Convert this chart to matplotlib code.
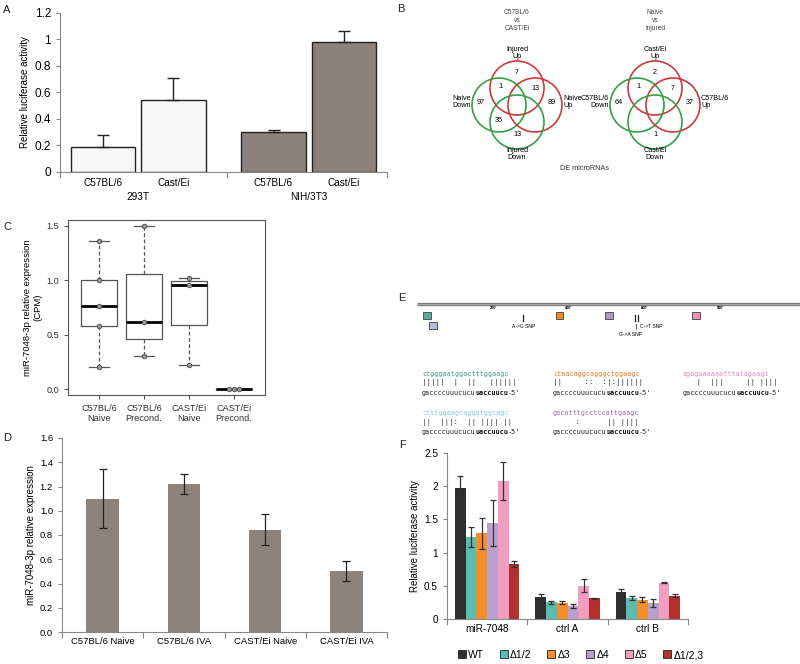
import matplotlib.pyplot as plt
from matplotlib.patches import Circle, Rectangle
from matplotlib.lines import Line2D

plt.rcParams['font.family'] = ['Liberation Sans', 'DejaVu Sans']

# ---- panel A: luciferase activity per strain and cell line
a_strains = ["C57BL/6", "Cast/Ei", "C57BL/6", "Cast/Ei"]
a_cells = ["293T", "NIH/3T3"]
a_values = [0.19, 0.545, 0.305, 0.98]
a_errors = [0.09, 0.165, 0.008, 0.08]

# ---- panel B: DE microRNA venn counts
venn_titles = ["C57BL/6\nvs\nCAST/Ei", "Naive\nvs\ninjured"]
venn1_sets = ["Injured\nUp", "Naive\nDown", "Naive\nUp", "Injured\nDown"]
venn2_sets = ["Cast/Ei\nUp", "C57BL/6\nDown", "C57BL/6\nUp", "Cast/Ei\nDown"]
# regions: top, top&left, top&right, left, right, left&bottom, bottom
venn1_counts = [7, 1, 13, 97, 89, 35, 13]
venn2_counts = [2, 1, 7, 64, 37, None, 1]

# ---- panel C: small RNA-seq CPM
c_labels = ["C57BL/6\nNaive", "C57BL/6\nPrecond.", "CAST/Ei\nNaive", "CAST/Ei\nPrecond."]
c_b6_naive = [0.20, 0.58, 0.76, 1.00, 1.36]
c_b6_precond = [0.30, 0.62, 1.50]
c_cast_naive = [0.22, 0.96, 1.02]
c_cast_precond = [0.0, 0.0, 0.0]

# ---- panel D: qPCR
d_labels = ["C57BL/6 Naive", "C57BL/6 IVA", "CAST/Ei Naive", "CAST/Ei IVA"]
d_values = [1.10, 1.22, 0.845, 0.505]
d_errors = [0.245, 0.08, 0.125, 0.083]

# ---- panel E: target sites in the 3'UTR
e_ticks = [200, 400, 600, 800]
e_sites = [26, 42, 375, 505, 735]
e_site_rows = [0, 1, 0, 0, 0]
e_site_colors = ["#55aa9c", "#aac0de", "#f08a24", "#b98fc9", "#ef8fb6"]
e_snps = [280, 574, 582]
e_snp_labels = ["A->G SNP", "G->A SNP", "C->T SNP"]
e_targets = ["ctgggaatggactttggaagc", "ctaacaggcagggctggaagc",
             "agagaaaaaatttatagaagt", "ctttggaagcaggatggcagc",
             "gacatttgcctccattgaagc"]
e_target_colors = ["#3d9a8a", "#f07a22", "#e98bbb", "#8cc6e6", "#a466b4"]
e_pairs = ["|||||  |  ||   ||||||", "||     ::  :|:||||||",
           "   |  |||     || ||||", "||  |||:  || |||| ||",
           "     :      || ||||"]
e_mirna = ["gaccccuuucucu", "uaccuucu", "-5'"]

# ---- panel F: site deletion luciferase
f_groups = ["miR-7048", "ctrl A", "ctrl B"]
f_series = ["WT", "Δ1/2", "Δ3", "Δ4", "Δ5", "Δ1/2,3"]
f_colors = ["#2e2e2e", "#5cbcb0", "#f28e2b", "#b9a0cc", "#f29ec0", "#b3302e"]
f_values = [[1.98, 0.33, 0.41], [1.24, 0.25, 0.32], [1.29, 0.245, 0.29],
            [1.45, 0.20, 0.24], [2.08, 0.50, 0.545], [0.83, 0.31, 0.35]]
f_errors = [[0.17, 0.04, 0.04], [0.15, 0.02, 0.03], [0.23, 0.02, 0.04],
            [0.345, 0.03, 0.06], [0.29, 0.10, 0.005], [0.05, 0.005, 0.02]]

W, H = 800, 664
fig = plt.figure(figsize=(8, 6.64), dpi=100)


def box(x0, y0, x1, y1):
    # pixel box (top-left origin) -> figure fraction rect
    return [x0 / W, 1 - y1 / H, (x1 - x0) / W, (y1 - y0) / H]


def excel_style(ax, fs):
    for s in ["top", "right"]:
        ax.spines[s].set_visible(False)
    for s in ["left", "bottom"]:
        ax.spines[s].set_color("#888888")
        ax.spines[s].set_linewidth(0.8)
    ax.tick_params(axis="y", labelsize=fs, length=3, color="#888888", width=0.8)
    ax.tick_params(axis="x", which="major", length=0, labelsize=fs)
    ax.tick_params(axis="x", which="minor", length=4, color="#888888", width=0.8)


# ---------------- A
axA = fig.add_axes(box(60, 12.7, 387, 172))
a_pos = [0, 1, 2.42, 3.42]
a_cols = ["#f7f7f7", "#f7f7f7", "#8c827b", "#8c827b"]
axA.bar(a_pos, a_values, width=0.91, color=a_cols, edgecolor="#222222", linewidth=1.0,
        yerr=[[0] * 4, a_errors], error_kw=dict(ecolor="#222222", elinewidth=1.0, capsize=4, capthick=1.0))
axA.set_xlim(-0.61, 4.03)
axA.set_ylim(0, 1.2)
axA.set_yticks([0, 0.2, 0.4, 0.6, 0.8, 1, 1.2], ["0", "0.2", "0.4", "0.6", "0.8", "1", "1.2"])
axA.set_xticks(a_pos, a_strains)
axA.set_xticks([-0.61, 1.76, 4.03], minor=True)
excel_style(axA, 8.5)
axA.tick_params(axis="x", labelsize=7.2, pad=4)
axA.set_ylabel("Relative luciferase activity", fontsize=7, labelpad=3)
for cx, name in zip([0.5, 2.92], a_cells):
    axA.text(cx, -0.16, name, transform=axA.get_xaxis_transform(), ha="center", va="center", fontsize=7.2)

# ---------------- C
axC = fig.add_axes(box(68, 220, 265, 395))
c_data = [c_b6_naive, c_b6_precond, c_cast_naive, c_cast_precond]
bp = axC.boxplot(c_data, positions=[1, 2, 3, 4], widths=0.8, showfliers=False, whis=(0, 100),
                 boxprops=dict(color="#555555", linewidth=0.9),
                 whiskerprops=dict(color="#555555", linewidth=0.9, linestyle=(0, (3, 2))),
                 capprops=dict(color="#555555", linewidth=0.9),
                 medianprops=dict(color="black", linewidth=2.0), capwidths=0.45)
for i, vals in enumerate(c_data):
    xs = []
    for j, v in enumerate(vals):
        same = [k for k, u in enumerate(vals) if u == v]
        if len(same) > 1:
            xs.append(i + 1 + (same.index(j) - (len(same) - 1) / 2) * 0.12)
        else:
            xs.append(i + 1)
    axC.plot(xs, vals, "o", ms=3.2, mfc="#9a9a9a", mec="#555555", mew=0.7, zorder=5)
axC.set_xlim(0.31, 4.69)
axC.set_ylim(-0.055, 1.555)
axC.set_yticks([0, 0.5, 1.0, 1.5], ["0.0", "0.5", "1.0", "1.5"])
axC.set_xticks([1, 2, 3, 4], c_labels)
for s in axC.spines.values():
    s.set_color("#555555")
    s.set_linewidth(0.8)
axC.tick_params(labelsize=6.6, length=3, color="#555555", labelcolor="#333333")
axC.set_ylabel("miR-7048-3p relative expression\n(CPM)", fontsize=6.8, labelpad=3)

# ---------------- D
axD = fig.add_axes(box(62, 438, 387, 632))
axD.bar(range(4), d_values, width=0.4, color="#8d837b",
        yerr=d_errors, error_kw=dict(ecolor="#222222", elinewidth=0.9, capsize=3, capthick=0.9))
axD.set_xlim(-0.5, 3.5)
axD.set_ylim(0, 1.6)
axD.set_yticks([0, 0.2, 0.4, 0.6, 0.8, 1.0, 1.2, 1.4, 1.6],
               ["0.0", "0.2", "0.4", "0.6", "0.8", "1.0", "1.2", "1.4", "1.6"])
axD.set_xticks(range(4), d_labels)
axD.set_xticks([-0.5, 0.5, 1.5, 2.5, 3.5], minor=True)
excel_style(axD, 6.8)
axD.set_ylabel("miR-7048-3p relative expression", fontsize=7, labelpad=3)

# ---------------- F
axF = fig.add_axes(box(447, 453, 688, 619))
bw = 0.133
for i, (name, col) in enumerate(zip(f_series, f_colors)):
    xs = [g + (i - 2.5) * bw for g in range(3)]
    axF.bar(xs, f_values[i], width=bw, color=col, label=name,
            yerr=f_errors[i], error_kw=dict(ecolor="#333333", elinewidth=0.9, capsize=2.5, capthick=0.9))
axF.set_xlim(-0.5, 2.5)
axF.set_ylim(0, 2.5)
axF.set_yticks([0, 0.5, 1, 1.5, 2, 2.5], ["0", "0.5", "1", "1.5", "2", "2.5"])
axF.set_xticks(range(3), f_groups)
axF.set_xticks([-0.5, 0.5, 1.5, 2.5], minor=True)
excel_style(axF, 7.2)
axF.set_ylabel("Relative luciferase activity", fontsize=7, labelpad=3)
handles = [Line2D([], [], marker="s", ls="none", ms=6, mfc=c, mec="#222222", mew=0.6) for c in f_colors]
fig.legend(handles, f_series, loc="center", bbox_to_anchor=(0.726, 1 - 655 / H), ncol=6,
           frameon=False, fontsize=7.5, handlelength=0.8, handletextpad=0.2, columnspacing=1.5,
           borderaxespad=0)

# ---------------- E track
axE = fig.add_axes(box(417, 300, 800, 340))
axE.set_xlim(0, 1008)
axE.set_ylim(40, 0)
axE.axis("off")
axE.plot([0, 1008], [4, 4], color="#7d7d7d", lw=2.4, solid_capstyle="butt")
axE.plot([0, 1008], [4, 4], color="#bdbdbd", lw=0.5)
for t in e_ticks:
    axE.text(t, 8, f"{t}'", fontsize=2.8, ha="center", va="center", fontweight="bold")
for pos, row, col in zip(e_sites, e_site_rows, e_site_colors):
    axE.add_patch(Rectangle((pos - 10, 15 + row * 10 - 3), 20, 6.5, facecolor=col,
                            edgecolor="#555555", lw=0.7))
for pos in e_snps:
    axE.plot([pos, pos], [15, 21], color="#222222", lw=0.9)
axE.text(e_snps[0], 27, e_snp_labels[0], fontsize=3.6, ha="center", va="center")
axE.plot([e_snps[2] - 6, e_snps[2] - 6], [24, 29], color="#222222", lw=0.5)
axE.text(e_snps[2] + 5, 27, e_snp_labels[2], fontsize=3.6, ha="left", va="center")
axE.text(e_snps[1] - 12, 34, e_snp_labels[1], fontsize=3.6, ha="center", va="center")

# ---------------- overlay (B venns, E sequences, panel letters)
ov = fig.add_axes([0, 0, 1, 1])
ov.set_xlim(0, W)
ov.set_ylim(H, 0)
ov.axis("off")
ov.patch.set_alpha(0)

for cx, title, sets, counts in [(517, venn_titles[0], venn1_sets, venn1_counts),
                                (655, venn_titles[1], venn2_sets, venn2_counts)]:
    ov.text(cx, 20, title, fontsize=4.8, ha="center", va="center", color="#444444", linespacing=1.2)
    r = 27
    d = 18
    centers = [(cx, 88), (cx - d, 105), (cx + d, 105), (cx, 122)]
    for (x, y), col in zip(centers, ["#cc3b3b", "#33a047", "#cc3b3b", "#33a047"]):
        ov.add_patch(Circle((x, y), r, fill=False, edgecolor=col, lw=1.2))
    ov.text(cx, 53, sets[0], fontsize=5.2, ha="center", va="center", linespacing=1.1)
    ov.text(cx - d - r - 1, 102, sets[1], fontsize=5.2, ha="right", va="center", linespacing=1.1)
    ov.text(cx + d + r + 1, 102, sets[2], fontsize=5.2, ha="left", va="center", linespacing=1.1)
    ov.text(cx, 154, sets[3], fontsize=5.2, ha="center", va="center", linespacing=1.1)
    spots = [(cx, 72), (cx - 17, 87), (cx + 18, 89), (cx - 36, 103), (cx + 35, 103),
             (cx - 18, 120), (cx, 135)]
    for (x, y), n in zip(spots, counts):
        if n is not None:
            ov.text(x, y, str(n), fontsize=5.2, ha="center", va="center")
ov.text(585, 168, "DE microRNAs", fontsize=5.2, ha="center", va="center", color="#333333")

# sequences
fs = 4.9
cw = 0.602 * fs * 100 / 72
mono = "DejaVu Sans Mono"
cols = [422, 553, 683]
rows = [374, 413]
slots = [(0, 0), (1, 0), (2, 0), (0, 1), (1, 1)]
for (ci, ri), seq, col, pair in zip(slots, e_targets, e_target_colors, e_pairs):
    x, y = cols[ci], rows[ri]
    ov.text(x, y, seq, fontsize=fs, family=mono, color=col, va="center", ha="left")
    ov.text(x, y + 9, pair, fontsize=fs + 0.5, family=mono, color="#333333", va="center", ha="left")
    ov.text(x, y + 19, e_mirna[0], fontsize=fs, family=mono, color="#222222", va="center", ha="left")
    ov.text(x + len(e_mirna[0]) * cw, y + 19, e_mirna[1], fontsize=fs, family=mono,
            color="#111111", fontweight="bold", va="center", ha="left")
    ov.text(x + (len(e_mirna[0]) + len(e_mirna[1])) * cw, y + 19, e_mirna[2], fontsize=fs,
            family=mono, color="#222222", va="center", ha="left")

for letter, x, y in [("A", 7, 10), ("B", 401, 9), ("C", 7, 227), ("D", 7, 438),
                     ("E", 402, 298), ("F", 402, 445)]:
    ov.text(x, y, letter, fontsize=8, ha="center", va="center", color="#222222")

fig.savefig("out.png", dpi=100)
